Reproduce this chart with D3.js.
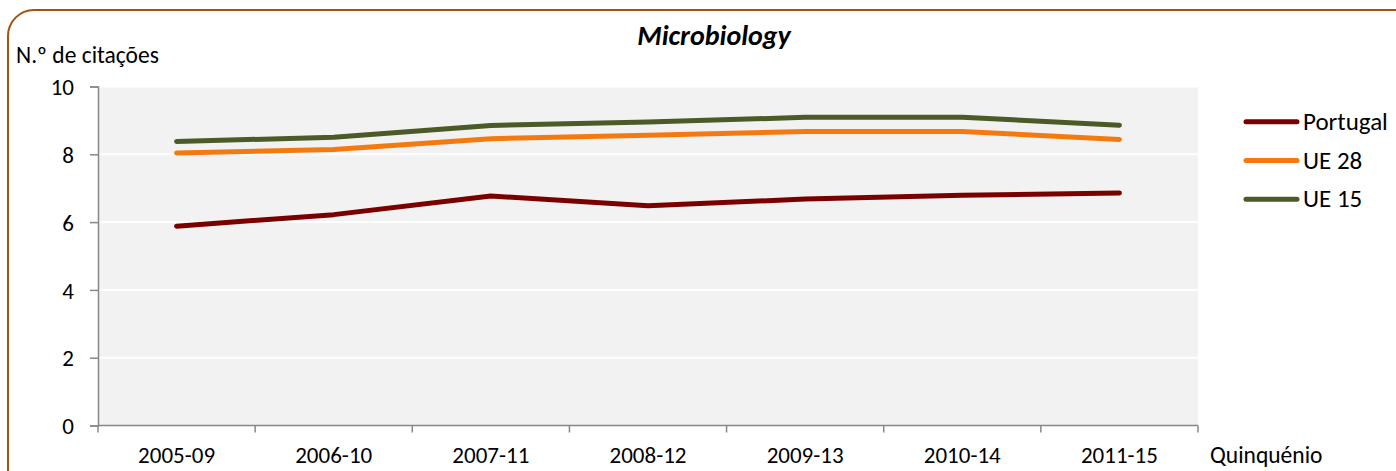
<!DOCTYPE html>
<html><head><meta charset="utf-8">
<script src="https://cdn.jsdelivr.net/npm/d3@7"></script>
<style>body{margin:0;background:#fff}svg{display:block;font-family:Carlito,Lato,"Open Sans",sans-serif}</style>
</head><body><svg id="c" width="1396" height="471"></svg>
<script>
const categories = ["2005-09","2006-10","2007-11","2008-12","2009-13","2010-14","2011-15"];
const portugal = [5.88,6.22,6.77,6.48,6.68,6.79,6.86];
const ue28 = [8.04,8.14,8.46,8.56,8.67,8.67,8.44];
const ue15 = [8.38,8.50,8.85,8.95,9.09,9.09,8.86];
const yTicks = [0,2,4,6,8,10];
const seriesNames = ["Portugal","UE 28","UE 15"];
const colors = ["#7A0000","#F47A10","#4B5A26"];
const series = [portugal, ue28, ue15];

const svg = d3.select("#c");
const L=98,R=1198,T=86.5,B=425.5;
svg.append("rect").attr("x",8).attr("y",10).attr("width",1420).attr("height",500).attr("rx",26)
  .attr("fill","none").attr("stroke","#A5520C").attr("stroke-width",2);
svg.append("rect").attr("x",L).attr("y",T).attr("width",R-L).attr("height",B-T).attr("fill","#F2F2F2");
const x = d3.scaleBand().domain(categories).range([L,R]);
const y = d3.scaleLinear().domain([0,10]).range([B,T]);
svg.append("g").selectAll("line").data(yTicks.filter(d=>d>0)).join("line")
  .attr("x1",L).attr("x2",R).attr("y1",d=>y(d)).attr("y2",d=>y(d)).attr("stroke","#fff").attr("stroke-width",2);
const ya = svg.append("g").attr("transform",`translate(${L},0)`).call(d3.axisLeft(y).tickValues(yTicks).tickSize(8).tickPadding(16));
const xa = svg.append("g").attr("transform",`translate(0,${B})`).call(d3.axisBottom(x).tickSize(0).tickPadding(20));
[ya,xa].forEach(a=>{a.select(".domain").attr("stroke","#888").attr("stroke-width",1.5);
  a.selectAll("text").attr("font-size",23).attr("fill","#000").attr("font-family","Carlito,Lato,sans-serif");
  a.selectAll(".tick line").attr("stroke","#888").attr("stroke-width",1.5);});
ya.selectAll("text").attr("dy","0.36em");
xa.selectAll("text").attr("dy",null).attr("y",37.5);
xa.select(".domain").attr("d",`M${L},0H${R}`);
svg.append("g").selectAll("line").data(d3.range(categories.length+1)).join("line")
  .attr("x1",i=>L+i*x.step()).attr("x2",i=>L+i*x.step()).attr("y1",B).attr("y2",B+7).attr("stroke","#888").attr("stroke-width",1.5);
const line = d3.line().x((d,i)=>x(categories[i])+x.bandwidth()/2).y(d=>y(d));
series.forEach((s,k)=>{
  svg.append("path").attr("d",line(s)).attr("fill","none").attr("stroke",colors[k]).attr("stroke-width",5).attr("stroke-linecap","round").attr("stroke-linejoin","round");
});
const lg = svg.append("g");
seriesNames.forEach((n,k)=>{
  const yy = 121.7 + k*38.8;
  lg.append("line").attr("x1",1246).attr("x2",1297).attr("y1",yy).attr("y2",yy).attr("stroke",colors[k]).attr("stroke-width",5).attr("stroke-linecap","round");
  lg.append("text").attr("x",1303).attr("y",yy+8).attr("font-size",25).text(n);
});
svg.append("text").attr("x",714).attr("y",45).attr("text-anchor","middle").attr("font-size",28).attr("font-weight","bold").attr("font-style","italic").text("Microbiology");
svg.append("text").attr("x",16).attr("y",63).attr("font-size",23.5).text("N.º de citações");
svg.append("text").attr("x",1210).attr("y",463).attr("font-size",23.5).text("Quinquénio");
</script></body></html>
